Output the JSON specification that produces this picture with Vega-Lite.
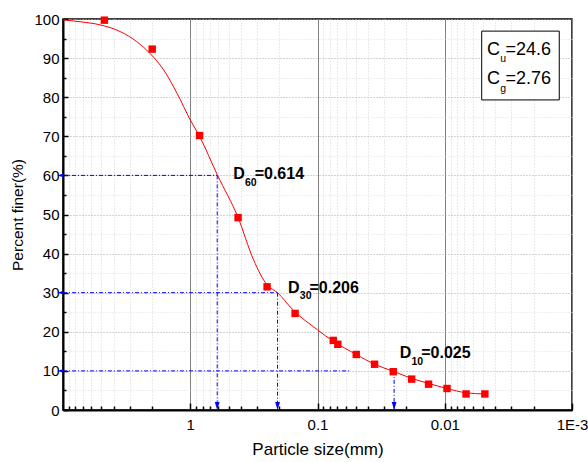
{
  "$schema": "https://vega.github.io/schema/vega-lite/v6.json",
  "width": 509,
  "height": 391,
  "autosize": {"type": "none"},
  "padding": {"left": 63, "top": 19, "right": 16, "bottom": 52},
  "background": "white",
  "config": {
    "font": "Liberation Sans",
    "view": {"stroke": "black", "strokeWidth": 1.5},
    "axis": {"labelOverlap": false}
  },
  "datasets": {
    "curve": [
      {"x": 10, "y": 99.8}, {"x": 7.35, "y": 99.3}, {"x": 5.11, "y": 98.5}, {"x": 3.56, "y": 96.8},
      {"x": 2.63, "y": 94.2}, {"x": 2.07, "y": 91.2}, {"x": 1.62, "y": 87.0}, {"x": 1.27, "y": 81.0},
      {"x": 1.0, "y": 74.2}, {"x": 0.845, "y": 70.0}, {"x": 0.61, "y": 60.0}, {"x": 0.423, "y": 49.4},
      {"x": 0.318, "y": 38.4}, {"x": 0.249, "y": 32.0}, {"x": 0.206, "y": 30.0}, {"x": 0.158, "y": 25.8},
      {"x": 0.1, "y": 20.5}, {"x": 0.0752, "y": 17.6}, {"x": 0.0496, "y": 14.2}, {"x": 0.0356, "y": 11.7},
      {"x": 0.0254, "y": 9.9}, {"x": 0.0182, "y": 8.1}, {"x": 0.0134, "y": 6.8}, {"x": 0.0096, "y": 5.5},
      {"x": 0.0068, "y": 4.4}, {"x": 0.00484, "y": 4.1}
    ],
    "points": [
      {"x": 4.73, "y": 99.7}, {"x": 1.99, "y": 92.3}, {"x": 0.845, "y": 70.2}, {"x": 0.421, "y": 49.2},
      {"x": 0.249, "y": 31.5}, {"x": 0.15, "y": 24.7}, {"x": 0.0752, "y": 17.8}, {"x": 0.0692, "y": 16.8},
      {"x": 0.0496, "y": 14.2}, {"x": 0.0356, "y": 11.7}, {"x": 0.0254, "y": 9.8}, {"x": 0.0182, "y": 7.9},
      {"x": 0.0134, "y": 6.6}, {"x": 0.0096, "y": 5.5}, {"x": 0.0068, "y": 4.1}, {"x": 0.00484, "y": 4.1}
    ],
    "guides": [
      {"x": 10, "x2": 0.614, "y": 60, "y2": 60},
      {"x": 10, "x2": 0.206, "y": 30, "y2": 30},
      {"x": 10, "x2": 0.055, "y": 10, "y2": 10},
      {"x": 0.614, "x2": 0.614, "y": 60, "y2": 0},
      {"x": 0.206, "x2": 0.206, "y": 30, "y2": 0},
      {"x": 0.025, "x2": 0.025, "y": 10, "y2": 0}
    ],
    "levels": [
      {"x": 0.614, "y": 60}, {"x": 0.206, "y": 30}, {"x": 0.025, "y": 10}
    ],
    "dlabels": [
      {"x": 0.46, "y": 59.0, "sub": "60", "rest": "=0.614"},
      {"x": 0.1705, "y": 30.0, "sub": "30", "rest": "=0.206"},
      {"x": 0.0226, "y": 13.2, "sub": "10", "rest": "=0.025"}
    ],
    "box": [{"x": 0.005124, "x2": 0.001259, "y": 96.9, "y2": 79.3}],
    "coef": [
      {"x": 0.00465, "y": 90.8, "sub": "u", "rest": "=24.6"},
      {"x": 0.00465, "y": 83.3, "sub": "g", "rest": "=2.76"}
    ]
  },
  "layer": [
    {
      "data": {"name": "curve"},
      "mark": {"type": "line", "color": "#ff0000", "strokeWidth": 1, "interpolate": "monotone"},
      "encoding": {
        "x": {
          "field": "x", "type": "quantitative",
          "scale": {"type": "log", "domain": [0.001, 10], "reverse": true, "nice": false},
          "axis": {
            "title": "Particle size(mm)",
            "values": [0.001,0.002,0.003,0.004,0.005,0.006,0.007,0.008,0.009,0.01,0.02,0.03,0.04,0.05,0.06,0.07,0.08,0.09,0.1,0.2,0.3,0.4,0.5,0.6,0.7,0.8,0.9,1,2,3,4,5,6,7,8,9],
            "tickCount": 100,
            "labelExpr": "datum.value == 1 ? '1' : datum.value == 0.1 ? '0.1' : datum.value == 0.01 ? '0.01' : datum.value == 0.001 ? '1E-3' : ''",
            "grid": true,
            "gridColor": {"condition": {"test": "abs(log(datum.value)/LN10 - round(log(datum.value)/LN10)) < 0.000001", "value": "#808080"}, "value": "#d4d4d4"},
            "gridDash": {"condition": {"test": "abs(log(datum.value)/LN10 - round(log(datum.value)/LN10)) < 0.000001", "value": []}, "value": [1, 2]},
            "ticks": true,
            "tickSize": {"condition": {"test": "abs(log(datum.value)/LN10 - round(log(datum.value)/LN10)) < 0.000001", "value": -7}, "value": -4},
            "tickColor": "black",
            "tickWidth": 1.5,
            "domainColor": "black",
            "domainWidth": 2,
            "labelFontSize": 15,
            "labelColor": "black",
            "labelPadding": 14,
            "labelFlush": false,
            "labelOverlap": false,
            "titleFontSize": 17,
            "titleFontWeight": "normal",
            "titleColor": "black",
            "titlePadding": 6
          }
        },
        "y": {
          "field": "y", "type": "quantitative",
          "scale": {"domain": [0, 100], "nice": false, "zero": false},
          "axis": {
            "title": "Percent finer(%)",
            "values": [0,5,10,15,20,25,30,35,40,45,50,55,60,65,70,75,80,85,90,95,100],
            "tickCount": 100,
            "labelExpr": "datum.value % 10 == 0 ? datum.label : ''",
            "grid": true,
            "gridColor": {"condition": {"test": "datum.value % 10 == 0", "value": "#a8a8a8"}, "value": "#dcdcdc"},
            "gridDash": [1, 2],
            "ticks": true,
            "tickSize": {"condition": {"test": "datum.value % 10 == 0", "value": -5}, "value": -3},
            "tickColor": "black",
            "tickWidth": 1.5,
            "domainColor": "black",
            "domainWidth": 2,
            "labelFontSize": 15,
            "labelColor": "black",
            "labelPadding": 9,
            "labelOverlap": false,
            "labelFlush": false,
            "titleFontSize": 15.5,
            "titleFontWeight": "normal",
            "titleColor": "black",
            "titlePadding": 8
          }
        }
      }
    },
    {
      "data": {"name": "guides"},
      "mark": {"type": "rule", "color": "#0000ff", "strokeWidth": 1, "strokeDash": [4, 2, 1, 2]},
      "encoding": {
        "x": {"field": "x", "type": "quantitative"},
        "x2": {"field": "x2"},
        "y": {"field": "y", "type": "quantitative"},
        "y2": {"field": "y2"}
      }
    },
    {
      "data": {"name": "levels"},
      "mark": {"type": "point", "filled": true, "color": "#0000ff", "opacity": 1, "size": 36, "shape": "M1,-0.55L1,0.55L-1,0Z"},
      "encoding": {
        "x": {"datum": 10.56, "type": "quantitative"},
        "y": {"field": "y", "type": "quantitative"}
      }
    },
    {
      "data": {"name": "levels"},
      "mark": {"type": "point", "filled": true, "color": "#0000ff", "opacity": 1, "size": 64, "shape": "M-0.6,-1L0.6,-1L0,1Z"},
      "encoding": {
        "x": {"field": "x", "type": "quantitative"},
        "y": {"datum": 1.02, "type": "quantitative"}
      }
    },
    {
      "data": {"name": "points"},
      "mark": {"type": "square", "color": "#ff0000", "opacity": 1, "size": 55},
      "encoding": {
        "x": {"field": "x", "type": "quantitative"},
        "y": {"field": "y", "type": "quantitative"}
      }
    },
    {
      "data": {"name": "dlabels"},
      "mark": {"type": "text", "text": "D", "align": "left", "baseline": "alphabetic", "fontSize": 16, "fontWeight": "bold", "color": "black"},
      "encoding": {
        "x": {"field": "x", "type": "quantitative"},
        "y": {"field": "y", "type": "quantitative"}
      }
    },
    {
      "data": {"name": "dlabels"},
      "mark": {"type": "text", "align": "left", "baseline": "alphabetic", "fontSize": 10.5, "fontWeight": "bold", "color": "black", "dx": 11.8, "dy": 6.7},
      "encoding": {
        "x": {"field": "x", "type": "quantitative"},
        "y": {"field": "y", "type": "quantitative"},
        "text": {"field": "sub"}
      }
    },
    {
      "data": {"name": "dlabels"},
      "mark": {"type": "text", "align": "left", "baseline": "alphabetic", "fontSize": 16, "fontWeight": "bold", "color": "black", "dx": 21.5},
      "encoding": {
        "x": {"field": "x", "type": "quantitative"},
        "y": {"field": "y", "type": "quantitative"},
        "text": {"field": "rest"}
      }
    },
    {
      "data": {"name": "box"},
      "mark": {"type": "rect", "fill": "white", "stroke": "black", "strokeWidth": 1},
      "encoding": {
        "x": {"field": "x", "type": "quantitative"},
        "x2": {"field": "x2"},
        "y": {"field": "y", "type": "quantitative"},
        "y2": {"field": "y2"}
      }
    },
    {
      "data": {"name": "coef"},
      "mark": {"type": "text", "text": "C", "align": "left", "baseline": "alphabetic", "fontSize": 18, "color": "black"},
      "encoding": {
        "x": {"field": "x", "type": "quantitative"},
        "y": {"field": "y", "type": "quantitative"}
      }
    },
    {
      "data": {"name": "coef"},
      "mark": {"type": "text", "align": "left", "baseline": "alphabetic", "fontSize": 10.5, "color": "black", "dx": 13.2, "dy": 7.3},
      "encoding": {
        "x": {"field": "x", "type": "quantitative"},
        "y": {"field": "y", "type": "quantitative"},
        "text": {"field": "sub"}
      }
    },
    {
      "data": {"name": "coef"},
      "mark": {"type": "text", "align": "left", "baseline": "alphabetic", "fontSize": 18, "color": "black", "dx": 18.5},
      "encoding": {
        "x": {"field": "x", "type": "quantitative"},
        "y": {"field": "y", "type": "quantitative"},
        "text": {"field": "rest"}
      }
    }
  ]
}
